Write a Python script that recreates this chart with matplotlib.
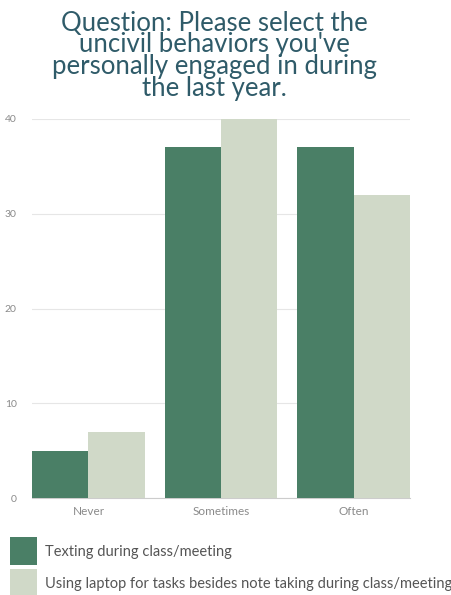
import matplotlib
matplotlib.use("Agg")
import matplotlib.pyplot as plt
import numpy as np
from matplotlib.patches import Rectangle

categories = ["Never", "Sometimes", "Often"]
texting = [5, 37, 37]
laptop = [7, 40, 32]
series_names = ["Texting during class/meeting",
                "Using laptop for tasks besides note taking during class/meeting"]
yticks = [0, 10, 20, 30, 40]

dark = "#4a7f66"
light = "#d0d9c8"
title_color = "#2f5b69"
gray = "#8a8a8a"
colors = [dark, light]

plt.rcParams['font.family'] = ['Lato', 'DejaVu Sans']

W, H = 452, 595
fig = plt.figure(figsize=(W / 100, H / 100), dpi=100)
ax = fig.add_axes([0.071, 0.163, 0.836, 0.637])

x = np.arange(len(categories))
w = 0.425
ax.bar(x - w / 2, texting, w, color=dark, zorder=3)
ax.bar(x + w / 2, laptop, w, color=light, zorder=3)

ax.set_xlim(-0.5 + 0.075, 2.5 - 0.075)
ax.set_ylim(0, 40)
ax.set_yticks(yticks)
ax.set_xticks(x)
ax.set_xticklabels(categories)
ax.tick_params(axis='x', length=0, labelsize=8.5, colors=gray, pad=6)
ax.tick_params(axis='y', length=0, labelsize=7.5, colors=gray, pad=11)
ax.grid(axis='y', color="#e6e6e6", linewidth=0.8, zorder=0)
for s in ["top", "right", "left"]:
    ax.spines[s].set_visible(False)
ax.spines["bottom"].set_color("#cccccc")
ax.spines["bottom"].set_linewidth(0.8)

fig.text(0.475, 0.982, "Question: Please select the\nuncivil behaviors you've\npersonally engaged in during\nthe last year.",
         ha="center", va="top", fontsize=18.5, color=title_color, linespacing=0.83)

# legend (manual, square swatches)
for i, (name, c) in enumerate(zip(series_names, colors)):
    top = 537 + i * 32
    fig.add_artist(Rectangle((10 / W, 1 - (top + 28) / H), 27 / W, 28 / H,
                             transform=fig.transFigure, facecolor=c, edgecolor="none"))
    fig.text(45 / W, 1 - (top + 15) / H, name, ha="left", va="center",
             fontsize=10.5, color="#555555")

fig.savefig("out.png", dpi=100)
